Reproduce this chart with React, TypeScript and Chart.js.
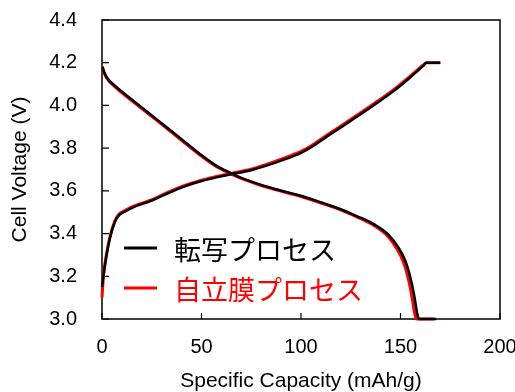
import React, { useEffect, useRef } from "react";
import { Chart, registerables } from "chart.js";

Chart.register(...registerables);

// ---- Data ----
const seriesLabels = ["転写プロセス", "自立膜プロセス"];
const seriesColors = ["#000000", "#ff0000"];
const xAxisTitle = "Specific Capacity (mAh/g)";
const yAxisTitle = "Cell Voltage (V)";
const xTickValues = [0, 50, 100, 150, 200];
const yTickValues = [3.0, 3.2, 3.4, 3.6, 3.8, 4.0, 4.2, 4.4];

// 転写プロセス (black)
const blackChargeCap = [0, 0.7, 2.3, 4, 6.5, 8.5, 11, 15.7, 24, 32.5, 40.9, 49.2, 57.6, 65, 74.4, 82.7, 91.1, 99.5, 105, 112.9, 121, 129.6, 138, 146.4, 154, 161.5, 163, 170];
const blackChargeV = [3.15, 3.2, 3.3, 3.38, 3.455, 3.485, 3.5, 3.523, 3.551, 3.586, 3.619, 3.644, 3.663, 3.678, 3.695, 3.718, 3.745, 3.776, 3.803, 3.853, 3.903, 3.956, 4.01, 4.066, 4.124, 4.186, 4.2, 4.2];
const blackDischargeCap = [0, 0.3, 1, 2.4, 7.4, 15.7, 24.1, 32.5, 40.9, 49.2, 57.6, 64.3, 70, 77.7, 84, 89.4, 99.5, 106, 112, 119.6, 128.3, 136.8, 143.8, 149, 152.5, 155, 156.8, 158.5, 159.3, 168];
const blackDischargeV = [4.18, 4.178, 4.158, 4.131, 4.085, 4.022, 3.96, 3.898, 3.835, 3.773, 3.717, 3.685, 3.661, 3.635, 3.617, 3.603, 3.578, 3.559, 3.54, 3.515, 3.481, 3.443, 3.396, 3.334, 3.271, 3.193, 3.115, 3.022, 3.0, 3.0];

// 自立膜プロセス (red)
const redChargeCap = [0, 0.7, 2.3, 4, 6.5, 8.5, 11, 15.7, 24, 32.5, 40.9, 49.2, 57.6, 65, 74.4, 82.7, 91.1, 99.5, 105, 112.9, 121, 129.6, 138, 146.4, 154, 161.5, 163, 170];
const redChargeV = [3.1, 3.2, 3.305, 3.385, 3.46, 3.49, 3.505, 3.527, 3.555, 3.59, 3.623, 3.648, 3.667, 3.682, 3.7, 3.724, 3.752, 3.783, 3.81, 3.86, 3.91, 3.963, 4.017, 4.072, 4.13, 4.19, 4.2, 4.2];
const redDischargeCap = [0, 0.3, 1, 2.4, 7.4, 15.7, 24.1, 32.5, 40.9, 49.2, 57.6, 64.3, 70, 77.7, 84, 89.4, 99.5, 106, 112, 119.6, 128, 136.3, 143, 148, 151.4, 153.9, 155.6, 157.3, 158.1, 167];
const redDischargeV = [4.18, 4.176, 4.155, 4.127, 4.08, 4.017, 3.955, 3.893, 3.83, 3.768, 3.713, 3.682, 3.658, 3.632, 3.614, 3.6, 3.575, 3.556, 3.537, 3.512, 3.478, 3.44, 3.393, 3.331, 3.268, 3.19, 3.112, 3.019, 3.0, 3.0];

const toPoints = (xs: number[], ys: number[]) => xs.map((x, i) => ({ x, y: ys[i] }));

const frameLegendPlugin = {
  id: "frameLegend",
  beforeDatasetsDraw(chart: any) {
    const { ctx, chartArea } = chart;
    const xs = chart.scales.x;
    const ys = chart.scales.y;
    ctx.save();
    ctx.strokeStyle = "#000";
    ctx.lineWidth = 1.5;
    ctx.strokeRect(chartArea.left, chartArea.top, chartArea.right - chartArea.left, chartArea.bottom - chartArea.top);
    ctx.lineWidth = 1.2;
    ctx.beginPath();
    yTickValues.forEach((v) => {
      const y = ys.getPixelForValue(v);
      ctx.moveTo(chartArea.left, y);
      ctx.lineTo(chartArea.left + 7, y);
    });
    xTickValues.forEach((v) => {
      const x = xs.getPixelForValue(v);
      ctx.moveTo(x, chartArea.bottom);
      ctx.lineTo(x, chartArea.bottom - 6);
    });
    ctx.stroke();
    ctx.restore();
  },
  afterDatasetsDraw(chart: any) {
    const { ctx, chartArea } = chart;
    ctx.save();
    ctx.font = '27px "Noto Sans CJK JP"';
    ctx.textBaseline = "middle";
    ctx.textAlign = "left";
    seriesLabels.forEach((label, i) => {
      const y = chartArea.top + 228 + i * 40;
      ctx.strokeStyle = seriesColors[i];
      ctx.lineWidth = 3;
      ctx.beginPath();
      ctx.moveTo(chartArea.left + 22, y);
      ctx.lineTo(chartArea.left + 55, y);
      ctx.stroke();
      ctx.fillStyle = seriesColors[i];
      ctx.fillText(label, chartArea.left + 72, y + 2);
    });
    ctx.restore();
  },
};

export default function App() {
  const canvasRef = useRef<HTMLCanvasElement | null>(null);

  useEffect(() => {
    if (!canvasRef.current) return;
    const family = '"Liberation Sans", Arial, sans-serif';
    const tickFont = { family, size: 20 };
    const titleFont = { family, size: 21, lineHeight: 1 };
    const common = {
      borderJoinStyle: "round" as const,
      pointRadius: 0,
      fill: false,
      cubicInterpolationMode: "monotone" as const,
      clip: false as any,
    };
    const chart = new Chart(canvasRef.current, {
      type: "line",
      data: {
        datasets: [
          { ...common, label: seriesLabels[0], data: toPoints(blackChargeCap, blackChargeV), borderColor: seriesColors[0], borderWidth: 2.5 },
          { ...common, label: seriesLabels[0], data: toPoints(blackDischargeCap, blackDischargeV), borderColor: seriesColors[0], borderWidth: 2.5 },
          { ...common, label: seriesLabels[1], data: toPoints(redChargeCap, redChargeV), borderColor: seriesColors[1], borderWidth: 3 },
          { ...common, label: seriesLabels[1], data: toPoints(redDischargeCap, redDischargeV), borderColor: seriesColors[1], borderWidth: 3 },
        ],
      },
      options: {
        responsive: false,
        animation: false,
        events: [],
        layout: { padding: { top: 20, right: 15, left: 0, bottom: 0 } },
        plugins: { legend: { display: false }, tooltip: { enabled: false } },
        scales: {
          x: {
            type: "linear",
            min: 0,
            max: 200,
            afterBuildTicks: (scale: any) => {
              scale.ticks = xTickValues.map((v) => ({ value: v }));
            },
            ticks: { font: tickFont, color: "#000", padding: 16, maxRotation: 0 },
            grid: { display: false, drawTicks: false },
            border: { display: false },
            title: {
              display: true,
              text: xAxisTitle,
              color: "#000",
              font: titleFont,
              padding: { top: 0, bottom: 0 },
            },
            afterFit: (scale: any) => {
              scale.height = 73;
              scale.paddingLeft = 0;
              scale.paddingRight = 0;
            },
          },
          y: {
            type: "linear",
            min: 3.0,
            max: 4.4,
            afterBuildTicks: (scale: any) => {
              scale.ticks = yTickValues.map((v) => ({ value: v }));
            },
            ticks: {
              font: tickFont,
              color: "#000",
              padding: 25,
              callback: (v: any) => Number(v).toFixed(1),
            },
            grid: { display: false, drawTicks: false },
            border: { display: false },
            title: {
              display: true,
              text: yAxisTitle,
              color: "#000",
              font: titleFont,
              padding: { top: 9.5, bottom: 0 },
            },
            afterFit: (scale: any) => {
              scale.width = 102;
              scale.paddingTop = 0;
              scale.paddingBottom = 0;
            },
          },
        },
      },
      plugins: [frameLegendPlugin],
    });
    return () => chart.destroy();
  }, []);

  return (
    <div style={{ position: "fixed", left: 0, top: 0, width: 515, height: 392, background: "#fff" }}>
      <canvas ref={canvasRef} width={515} height={392} style={{ display: "block", width: 515, height: 392 }} />
    </div>
  );
}
